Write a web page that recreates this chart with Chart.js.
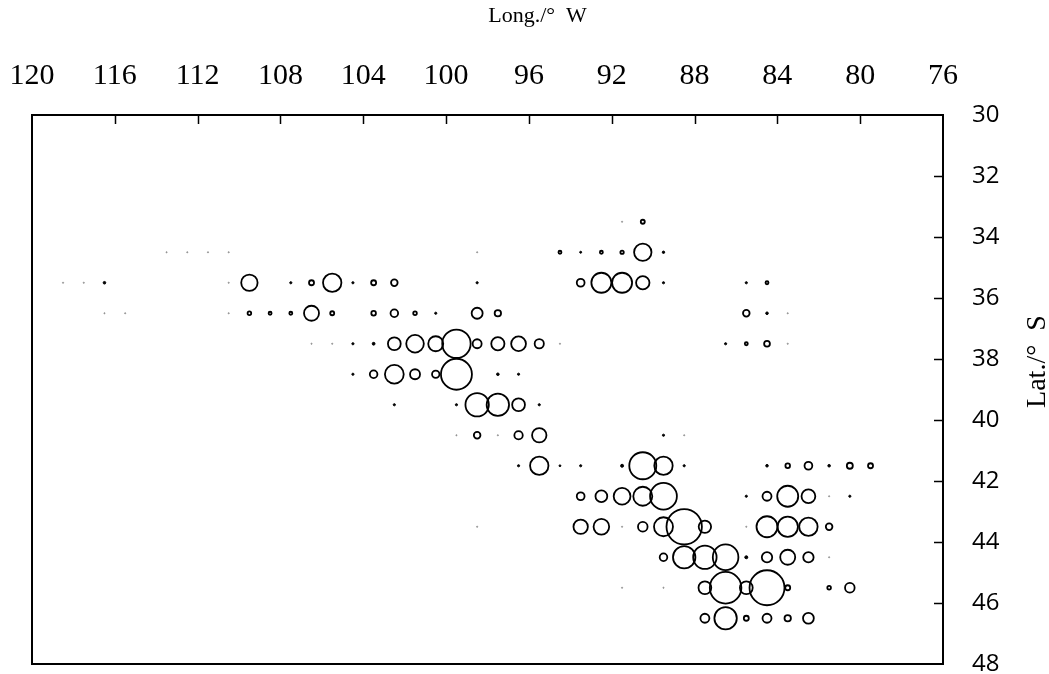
<!DOCTYPE html>
<html>
<head>
<meta charset="utf-8">
<script src="https://cdn.jsdelivr.net/npm/chart.js@4/dist/chart.umd.min.js"></script>
<style>
html,body{margin:0;padding:0;background:#fff;}
#wrap{width:1049px;height:674px;}
</style>
</head>
<body>
<div id="wrap"><canvas id="c" width="1049" height="674"></canvas></div>
<script>
// ---- tick labels ----
const xTickLabels = [120, 116, 112, 108, 104, 100, 96, 92, 88, 84, 80, 76];
const yTickLabels = [30, 32, 34, 36, 38, 40, 42, 44, 46, 48];
const xTitle = 'Long./°  W';
const yTitle = 'Lat./°  S';

// ---- data: one entry per latitude row ----
const rowLat = [33.5, 34.5, 35.5, 36.5, 37.5, 38.5, 39.5, 40.5, 41.5, 42.5, 43.5, 44.5, 45.5, 46.5];
const rowLon = [
  [91.5, 90.5],
  [113.5, 112.5, 111.5, 110.5, 98.5, 94.5, 93.5, 92.5, 91.5, 90.5, 89.5],
  [118.5, 117.5, 116.5, 110.5, 109.5, 107.5, 106.5, 105.5, 104.5, 103.5, 102.5, 98.5, 93.5, 92.5, 91.5, 90.5, 89.5, 85.5, 84.5],
  [116.5, 115.5, 110.5, 109.5, 108.5, 107.5, 106.5, 105.5, 103.5, 102.5, 101.5, 100.5, 98.5, 97.5, 85.5, 84.5, 83.5],
  [106.5, 105.5, 104.5, 103.5, 102.5, 101.5, 100.5, 99.5, 98.5, 97.5, 96.5, 95.5, 94.5, 86.5, 85.5, 84.5, 83.5],
  [104.5, 103.5, 102.5, 101.5, 100.5, 99.5, 97.5, 96.5],
  [102.5, 99.5, 98.5, 97.5, 96.5, 95.5],
  [99.5, 98.5, 97.5, 96.5, 95.5, 89.5, 88.5],
  [96.5, 95.5, 94.5, 93.5, 91.5, 90.5, 89.5, 88.5, 84.5, 83.5, 82.5, 81.5, 80.5, 79.5],
  [93.5, 92.5, 91.5, 90.5, 89.5, 85.5, 84.5, 83.5, 82.5, 81.5, 80.5],
  [98.5, 93.5, 92.5, 91.5, 90.5, 89.5, 88.5, 87.5, 85.5, 84.5, 83.5, 82.5, 81.5],
  [89.5, 88.5, 87.5, 86.5, 85.5, 84.5, 83.5, 82.5, 81.5],
  [91.5, 89.5, 87.5, 86.5, 85.5, 84.5, 83.5, 81.5, 80.5],
  [87.5, 86.5, 85.5, 84.5, 83.5, 82.5]
];
const rowValue = [
  [0.4, 2.5],
  [0.4, 0.4, 0.4, 0.4, 0.4, 2, 1, 2, 2.2, 9.5, 1.2],
  [0.4, 0.4, 1.3, 0.4, 9, 1.1, 3, 10, 1.1, 3, 3.8, 1.1, 4.7, 10.8, 10.8, 7.5, 1.1, 1.1, 2],
  [0.4, 0.4, 0.4, 2.3, 2, 2, 8.3, 2.5, 2.8, 4.6, 2.3, 1.1, 6.3, 4, 3.8, 1.3, 0.4],
  [0.4, 0.4, 1.1, 1.4, 7.2, 9.6, 8.3, 15, 5.3, 7.4, 8.2, 5.4, 0.4, 1.1, 2, 3.4, 0.4],
  [1.1, 4.6, 10.2, 5.8, 4.5, 16.3, 1.3, 1.1],
  [1.1, 1.1, 12.5, 12, 7.2, 1.1],
  [0.4, 3.8, 0.4, 5, 8, 1.1, 0.4],
  [1.1, 10, 0.9, 1.1, 1.5, 14.3, 10, 1.1, 1.3, 2.8, 4.7, 1.3, 3.5, 3],
  [4.7, 6.7, 9.2, 10.3, 14.2, 1.1, 5.3, 11.3, 7.7, 0.4, 1.1],
  [0.4, 8, 8.6, 0.4, 5.6, 10.3, 18.5, 7, 0.4, 11.3, 11, 10, 3.8],
  [4.6, 12, 12.5, 13.6, 1.5, 6, 8.3, 6, 0.4],
  [0.4, 0.4, 7.2, 16.6, 7.2, 18.3, 3, 2.3, 5.6],
  [5.3, 12, 3, 5.3, 4, 6.2]
];

// build bubble points from the arrays
const points = [];
rowLat.forEach((lat, i) => {
  rowLon[i].forEach((lon, j) => {
    points.push({ x: lon, y: lat, v: rowValue[i][j] });
  });
});

const TINY = 0.5, DOT = 1.6;
function radiusOf(v) {
  if (v <= TINY) return 0.6;
  if (v <= DOT) return v;
  if (v < 4) return v - 0.5;
  return v - 0.8;
}

const framePlugin = {
  id: 'frameTicks',
  afterDatasetsDraw(chart) {
    const { ctx, chartArea: a, scales } = chart;
    const x = scales.x, y = scales.y;
    ctx.save();
    ctx.strokeStyle = '#000';
    ctx.lineWidth = 2;
    ctx.strokeRect(a.left, a.top, a.right - a.left, a.bottom - a.top);
    ctx.lineWidth = 1.5;
    ctx.beginPath();
    x.ticks.forEach(t => {
      const px = Math.round(x.getPixelForValue(t.value)) + 0.5;
      if (px > a.left + 2 && px < a.right - 2) { ctx.moveTo(px, a.top); ctx.lineTo(px, a.top + 9); }
    });
    y.ticks.forEach(t => {
      const py = Math.round(y.getPixelForValue(t.value)) + 0.5;
      if (py > a.top + 2 && py < a.bottom - 2) { ctx.moveTo(a.right, py); ctx.lineTo(a.right - 9, py); }
    });
    ctx.stroke();
    ctx.fillStyle = '#000';
    ctx.textAlign = 'center';
    ctx.textBaseline = 'middle';
    ctx.font = '22px "Liberation Serif", "Times New Roman", serif';
    ctx.fillText(xTitle, (a.left + a.right) / 2 + 50, 16);
    ctx.font = '28px "Liberation Serif", "Times New Roman", serif';
    ctx.translate(a.right + 95, (a.top + a.bottom) / 2 - 28);
    ctx.rotate(-Math.PI / 2);
    ctx.fillText(yTitle, 0, 0);
    ctx.restore();
  }
};

function build() {
  new Chart(document.getElementById('c'), {
    type: 'bubble',
    data: {
      datasets: [{
        data: points.map(p => ({ x: p.x, y: p.y, r: radiusOf(p.v) })),
        backgroundColor: ctx => {
          const v = points[ctx.dataIndex] ? points[ctx.dataIndex].v : 5;
          if (v <= TINY) return '#8a8a8a';
          if (v <= DOT) return '#000';
          return 'rgba(0,0,0,0)';
        },
        borderColor: ctx => {
          const v = points[ctx.dataIndex] ? points[ctx.dataIndex].v : 5;
          return v <= TINY ? '#8a8a8a' : '#000';
        },
        borderWidth: ctx => {
          const v = points[ctx.dataIndex] ? points[ctx.dataIndex].v : 5;
          if (v <= TINY) return 0.8;
          if (v <= DOT) return 1;
          return 1.8;
        },
        hoverRadius: 0,
        clip: false
      }]
    },
    options: {
      responsive: false,
      animation: false,
      events: [],
      layout: { autoPadding: false, padding: { left: 32, right: 0, top: 0, bottom: 10 } },
      plugins: { legend: { display: false }, tooltip: { enabled: false } },
      scales: {
        x: {
          type: 'linear',
          position: 'top',
          min: 76, max: 120,
          reverse: true,
          grid: { display: false },
          border: { display: false },
          afterBuildTicks: s => { s.ticks = xTickLabels.map(v => ({ value: v })); },
          ticks: {
            autoSkip: false, maxRotation: 0, minRotation: 0,
            padding: 13,
            color: '#000',
            font: { family: '"Liberation Serif", "Times New Roman", serif', size: 30 },
            callback: v => String(v)
          },
          afterFit: s => { s.height = 115; s.paddingLeft = 0; s.paddingRight = 0; }
        },
        y: {
          type: 'linear',
          position: 'right',
          min: 30, max: 48,
          reverse: true,
          grid: { display: false },
          border: { display: false },
          afterBuildTicks: s => { s.ticks = yTickLabels.map(v => ({ value: v })); },
          ticks: {
            autoSkip: false,
            padding: 21,
            color: '#000',
            font: { family: '"Open Sans", "Liberation Sans", sans-serif', size: 24 },
            callback: v => String(v)
          },
          afterFit: s => { s.width = 106; s.paddingTop = 0; s.paddingBottom = 0; }
        }
      }
    },
    plugins: [framePlugin]
  });
}
if (document.fonts && document.fonts.ready) { document.fonts.ready.then(build); } else { build(); }
</script>
</body>
</html>
